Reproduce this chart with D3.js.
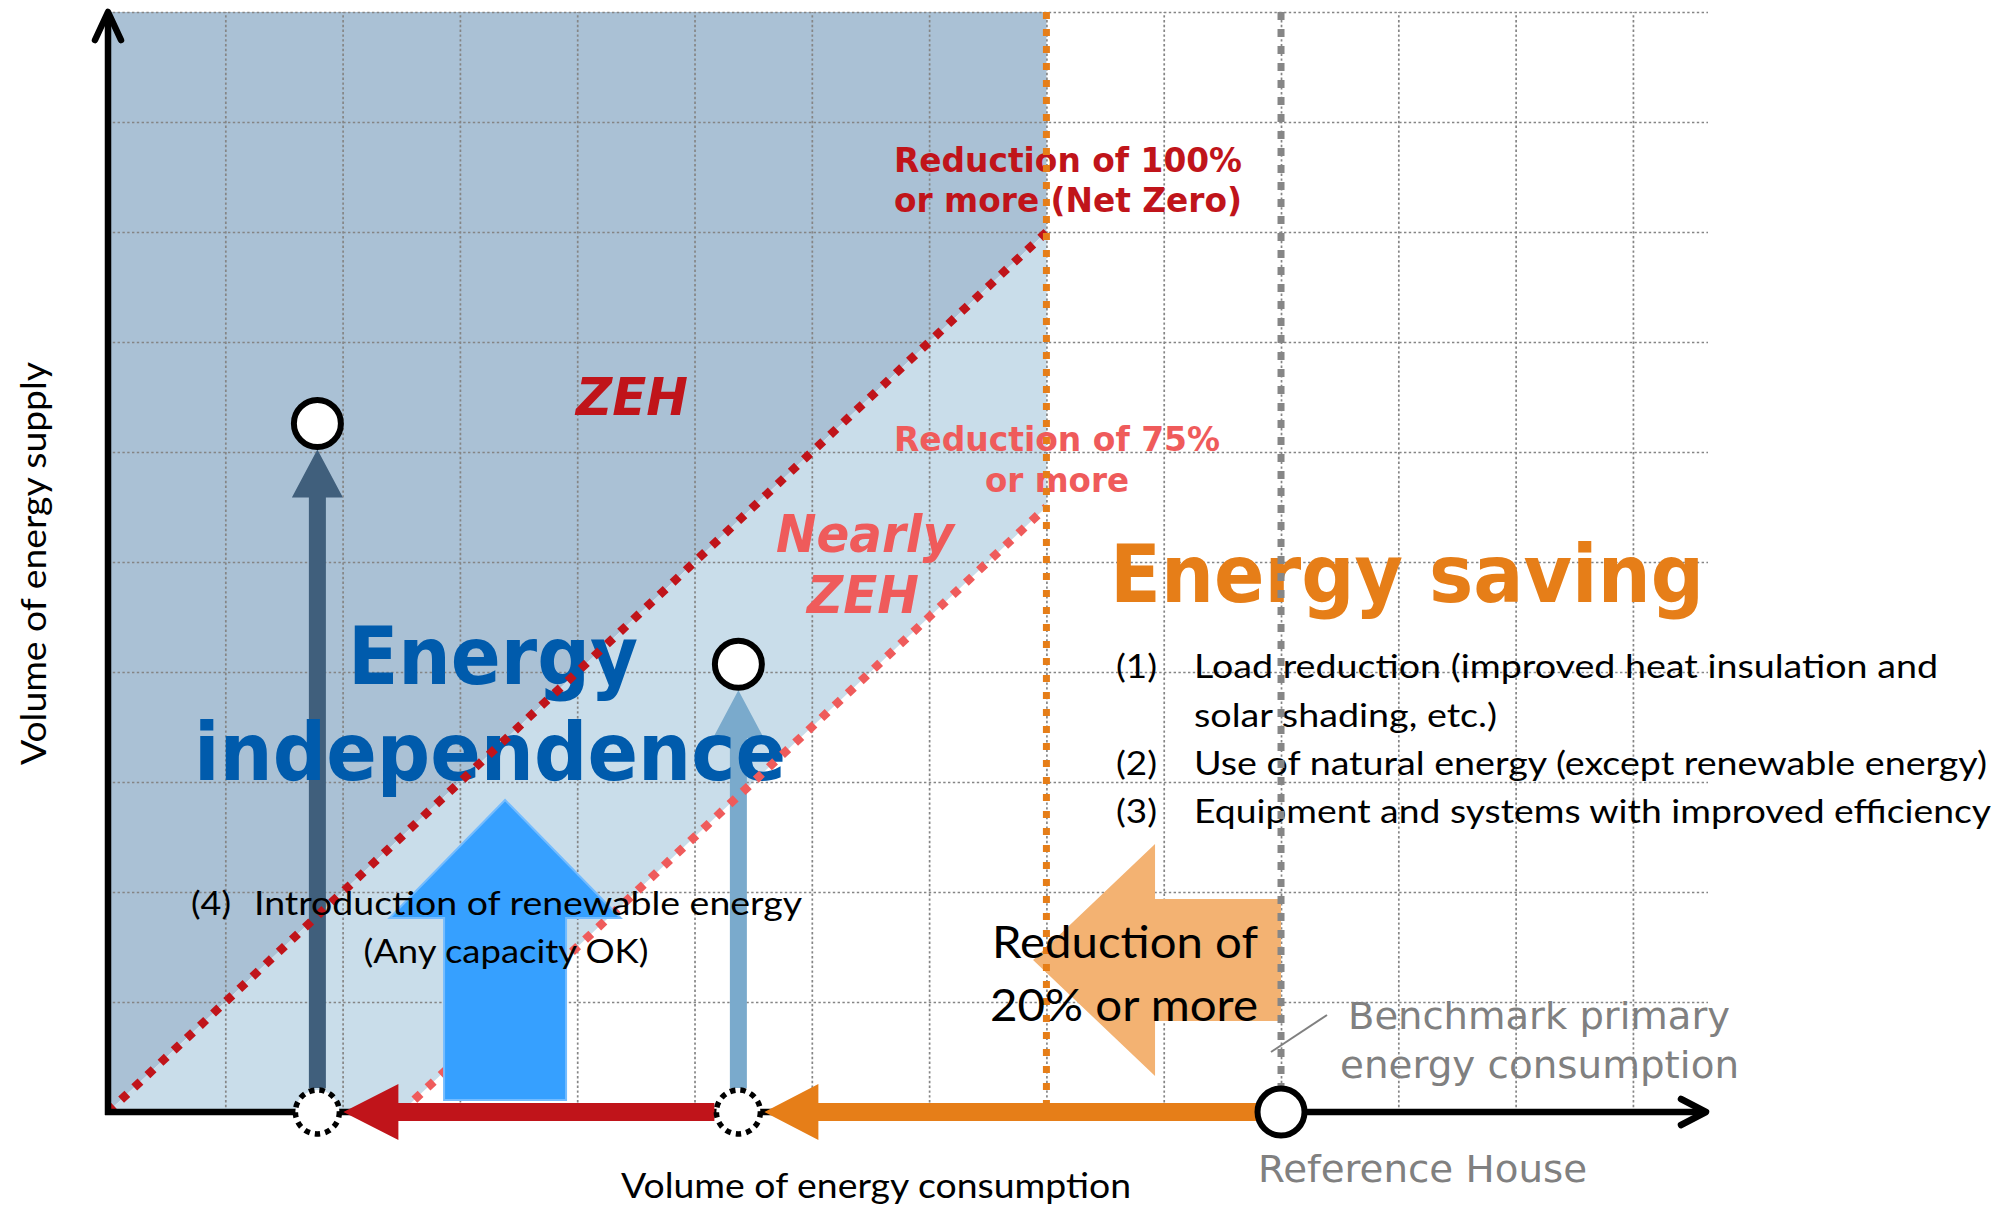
<!DOCTYPE html>
<html><head><meta charset="utf-8">
<script src="https://cdn.jsdelivr.net/npm/d3@7"></script>
<style>html,body{margin:0;padding:0;background:#fff;} svg{display:block}</style>
</head><body>
<script>
// ---------- data (grid units) ----------
const consumptionDomain = [0, 13.64];
const supplyDomain = [0, 10];
const gridXValues = [1,2,3,4,5,6,7,8,9,10,11,12,13];
const gridYValues = [1,2,3,4,5,6,7,8,9,10];
const referenceConsumption = 10;          // Reference House / benchmark
const savingLimit = 8;                    // 20% reduction
const zehLine = [[0,0],[8,8]];            // 100% reduction (net zero)
const nearlyZehLine = [[2.5,0],[8,5.5]];  // 75% reduction
const houseCategories = ["ZEH example", "Nearly ZEH example"];
const houseConsumption = [1.785, 5.374];
const houseSupply = [6.26, 4.07];
const renewableArrow = {x: 3.385, from: 0.11, to: 2.836};
const savingArrow = {y: 1.382, from: 10, to: 7.886};

// ---------- setup ----------
const W = 1997, H = 1207;
const svg = d3.select("body").append("svg").attr("width", W).attr("height", H);
const x = d3.scaleLinear().domain(consumptionDomain).range([108, 1708]);
const y = d3.scaleLinear().domain(supplyDomain).range([1112, 12]);
const TAH = "'DejaVu Sans', Verdana, sans-serif";
const CAL = "Lato, 'Open Sans', sans-serif";
const poly = pts => "M" + pts.map(p => p.join(",")).join("L") + "Z";

// ---------- shading ----------
svg.append("path")
  .attr("d", poly([[0,0],zehLine[1],[savingLimit,10],[0,10]].map(d => [x(d[0]), y(d[1])])))
  .attr("fill", "#AAC1D5");
svg.append("path")
  .attr("d", poly([zehLine[0], zehLine[1], nearlyZehLine[1], nearlyZehLine[0]].map(d => [x(d[0]), y(d[1])])))
  .attr("fill", "#C9DDEA");

// ---------- grid ----------
const gx = svg.append("g").attr("transform", `translate(0,${y(0)})`)
  .call(d3.axisBottom(x).tickValues(gridXValues).tickSize(-(y(0) - y(10))).tickFormat(""));
const gy = svg.append("g").attr("transform", `translate(${x(0)},0)`)
  .call(d3.axisLeft(y).tickValues(gridYValues).tickSize(-(x(consumptionDomain[1]) - x(0))).tickFormat(""));
[gx, gy].forEach(g => {
  g.select(".domain").remove();
  g.selectAll(".tick line").attr("stroke", "#858585").attr("stroke-width", 1.7).attr("stroke-dasharray", "2.4 2.4");
});

// ---------- supply arrows (vertical) ----------
const supplyColors = ["#405F7C", "#7AAACC"];
function upArrow(cx, yBottom, yTip, shaftHalf, headHalf, headLen) {
  const b = yTip + headLen;
  return poly([[cx-shaftHalf,yBottom],[cx-shaftHalf,b],[cx-headHalf,b],[cx,yTip],[cx+headHalf,b],[cx+shaftHalf,b],[cx+shaftHalf,yBottom]]);
}
houseConsumption.forEach((c, i) => {
  svg.append("path")
    .attr("d", upArrow(x(c), y(0) - 24, y(houseSupply[i]) + 26, 8.5, 25.5, 48))
    .attr("fill", supplyColors[i]);
});

// ---------- big labels (under lines) ----------
function txt(s, x0, y0, o) {
  const t = svg.append("text").attr("x", x0).attr("y", y0).text(s)
    .attr("font-family", o.f).attr("font-size", o.s).attr("fill", o.c || "#000")
    .attr("font-weight", o.b ? "bold" : "normal").attr("font-style", o.i ? "italic" : "normal");
  if (o.w) t.attr("textLength", o.w).attr("lengthAdjust", "spacingAndGlyphs");
  if (o.tr) t.attr("transform", o.tr);
  return t;
}
const RED = "#C0141A", PINK = "#EF5B5B", BLUE = "#005BAC", ORANGE = "#E67E18";
txt("Reduction of 100%", 894, 172, {f: TAH, s: 34, c: RED, b: 1, w: 348});
txt("or more (Net Zero)", 894, 212, {f: TAH, s: 34, c: RED, b: 1, w: 348});
txt("ZEH", 576, 415, {f: TAH, s: 52, c: RED, b: 1, i: 1, w: 112});
txt("Reduction of 75%", 894, 451, {f: TAH, s: 34, c: PINK, b: 1, w: 326});
txt("or more", 985, 492, {f: TAH, s: 34, c: PINK, b: 1, w: 144});
txt("Nearly", 776, 552, {f: TAH, s: 52, c: PINK, b: 1, i: 1, w: 178});
txt("ZEH", 807, 613, {f: TAH, s: 52, c: PINK, b: 1, i: 1, w: 112});
txt("Energy", 348, 684, {f: TAH, s: 80, c: BLUE, b: 1, w: 290});
txt("independence", 194, 780, {f: TAH, s: 80, c: BLUE, b: 1, w: 592});
txt("Energy saving", 1110, 602, {f: TAH, s: 80, c: ORANGE, b: 1, w: 594});
const listItems = [
  ["(1)", "Load reduction (improved heat insulation and", 678, 744],
  ["", "solar shading, etc.)", 727, 303],
  ["(2)", "Use of natural energy (except renewable energy)", 775, 793],
  ["(3)", "Equipment and systems with improved efficiency", 823, 797]
];
listItems.forEach(d => {
  if (d[0]) txt(d[0], 1116, d[2], {f: CAL, s: 33, w: 41});
  txt(d[1], 1194, d[2], {f: CAL, s: 33, w: d[3]});
});

// ---------- reference lines ----------
const ln = d3.line().x(d => x(d[0])).y(d => y(d[1]));
svg.append("path").attr("d", ln(zehLine)).attr("stroke", RED).attr("stroke-width", 8.5)
  .attr("stroke-dasharray", "8.5 9.5").attr("fill", "none");
svg.append("path").attr("d", ln(nearlyZehLine)).attr("stroke", PINK).attr("stroke-width", 8.5)
  .attr("stroke-dasharray", "8.5 9.5").attr("fill", "none");

// ---------- block arrows ----------
const ra = renewableArrow;
svg.append("path").attr("d", upArrow(x(ra.x), y(ra.from), y(ra.to), 61, 115.5, 118))
  .attr("fill", "#36A0FF").attr("stroke", "#74BCFF").attr("stroke-width", 2);
function leftArrow(xTail, xTip, cy, shaftHalf, headHalf, headLen) {
  const b = xTip + headLen;
  return poly([[xTail,cy-shaftHalf],[b,cy-shaftHalf],[b,cy-headHalf],[xTip,cy],[b,cy+headHalf],[b,cy+shaftHalf],[xTail,cy+shaftHalf]]);
}
const sa = savingArrow;
svg.append("path").attr("d", leftArrow(x(sa.from), x(sa.to), y(sa.y), 61, 116, 122))
  .attr("fill", "#F3B272");
svg.append("line").attr("x1", x(savingLimit)).attr("x2", x(savingLimit)).attr("y1", y(10)).attr("y2", y(0) - 8)
  .attr("stroke", ORANGE).attr("stroke-width", 7).attr("stroke-dasharray", "7 10");
svg.append("line").attr("x1", x(referenceConsumption)).attr("x2", x(referenceConsumption)).attr("y1", y(10)).attr("y2", y(0) - 24)
  .attr("stroke", "#868686").attr("stroke-width", 7).attr("stroke-dasharray", "8 9");

// ---------- axes ----------
svg.append("line").attr("x1", x(0)).attr("x2", x(0)).attr("y1", y(0) + 3).attr("y2", y(10) + 1)
  .attr("stroke", "#000").attr("stroke-width", 6.5);
svg.append("path").attr("d", `M${x(0)-13},${y(10)+28}L${x(0)},${y(10)}L${x(0)+13},${y(10)+28}`)
  .attr("fill", "none").attr("stroke", "#000").attr("stroke-width", 6.5).attr("stroke-linecap", "round").attr("stroke-linejoin", "round");
svg.append("line").attr("x1", x(0) - 3).attr("x2", x(consumptionDomain[1]) - 3).attr("y1", y(0)).attr("y2", y(0))
  .attr("stroke", "#000").attr("stroke-width", 6.5);
svg.append("path").attr("d", `M${x(consumptionDomain[1])-27},${y(0)-13}L${x(consumptionDomain[1])-2},${y(0)}L${x(consumptionDomain[1])-27},${y(0)+13}`)
  .attr("fill", "none").attr("stroke", "#000").attr("stroke-width", 6.5).attr("stroke-linecap", "round").attr("stroke-linejoin", "round");

// ---------- horizontal reduction arrows ----------
svg.append("path").attr("d", leftArrow(x(houseConsumption[1]) - 24, x(houseConsumption[0]) + 26, y(0), 9, 28, 55))
  .attr("fill", RED);
svg.append("path").attr("d", leftArrow(x(referenceConsumption) - 24, x(houseConsumption[1]) + 26, y(0), 9, 28, 54))
  .attr("fill", ORANGE);

// ---------- circles ----------
houseConsumption.forEach((c, i) => {
  svg.append("circle").attr("cx", x(c)).attr("cy", y(0)).attr("r", 22)
    .attr("fill", "#fff").attr("stroke", "#000").attr("stroke-width", 5.5).attr("stroke-dasharray", "5.5 5");
  svg.append("circle").attr("cx", x(c)).attr("cy", y(houseSupply[i])).attr("r", 23.5)
    .attr("fill", "#fff").attr("stroke", "#000").attr("stroke-width", 6);
});
svg.append("circle").attr("cx", x(referenceConsumption)).attr("cy", y(0)).attr("r", 23.5)
  .attr("fill", "#fff").attr("stroke", "#000").attr("stroke-width", 6);

// ---------- texts on top ----------
txt("(4)", 191, 915, {f: CAL, s: 33, w: 40});
txt("Introduction of renewable energy", 254, 915, {f: CAL, s: 33, w: 548});
txt("(Any capacity OK)", 363.5, 963, {f: CAL, s: 33, w: 285});
txt("Reduction of", 992, 958, {f: CAL, s: 44, w: 266});
txt("20% or more", 990, 1021, {f: CAL, s: 44, w: 268});
const GRAY = "#808080";
txt("Benchmark primary", 1348, 1029, {f: TAH, s: 38, c: GRAY, w: 382});
txt("energy consumption", 1340, 1078, {f: TAH, s: 38, c: GRAY, w: 399});
txt("Reference House", 1258, 1182, {f: TAH, s: 38, c: GRAY, w: 329});
svg.append("line").attr("x1", 1327).attr("y1", 1015).attr("x2", 1271).attr("y2", 1052)
  .attr("stroke", GRAY).attr("stroke-width", 2);
txt("Volume of energy consumption", 621, 1198, {f: CAL, s: 35, w: 510});
txt("Volume of energy supply", 0, 0, {f: CAL, s: 35, w: 403, tr: "translate(46,765) rotate(-90)"});
</script>
</body></html>
